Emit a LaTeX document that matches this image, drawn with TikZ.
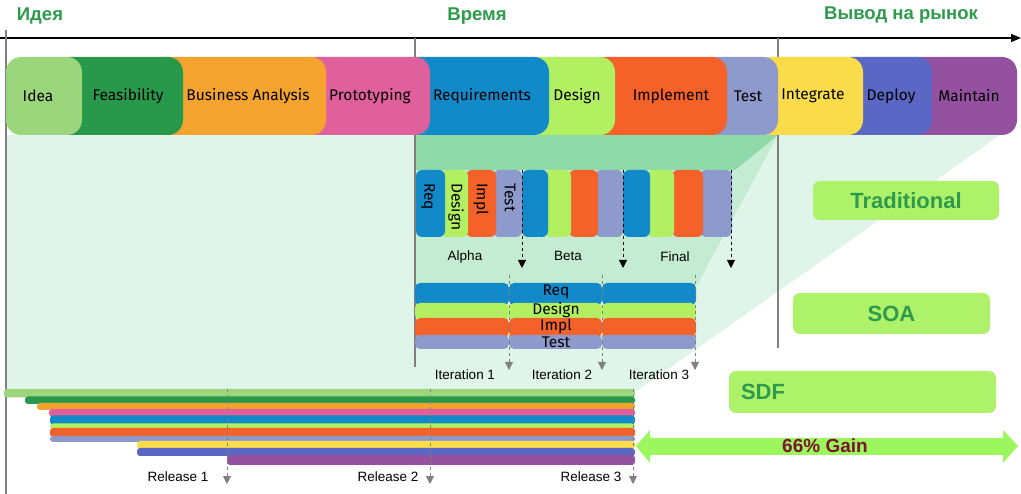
\documentclass[tikz,border=0pt]{standalone}
\usepackage{fontspec}
\setmainfont{Liberation Sans}
\newfontfamily\phasefont{Fira Sans}
\usetikzlibrary{arrows.meta}

\definecolor{cIdea}{HTML}{9BD67C}
\definecolor{cFeas}{HTML}{28994A}
\definecolor{cBA}{HTML}{F5A32F}
\definecolor{cProto}{HTML}{E0609B}
\definecolor{cReq}{HTML}{1289C9}
\definecolor{cDesign}{HTML}{B2F062}
\definecolor{cImpl}{HTML}{F4622A}
\definecolor{cTest}{HTML}{8F9ACC}
\definecolor{cInteg}{HTML}{FADC4B}
\definecolor{cDeploy}{HTML}{5A67C5}
\definecolor{cMaint}{HTML}{9451A0}
\definecolor{titlegreen}{HTML}{2E9A4C}
\definecolor{boxgreen}{HTML}{AEF26A}
\definecolor{bglight}{HTML}{E0F5E9}
\definecolor{bgmid}{HTML}{C4ECD2}
\definecolor{bgdark}{HTML}{8FD9A9}
\definecolor{gaingreen}{HTML}{9CF75E}
\definecolor{gainred}{HTML}{7B1431}

\tikzset{
  title/.style={font=\bfseries\fontsize{18.5}{20}\selectfont, text=titlegreen, inner sep=0pt},
  phaselabel/.style={font=\phasefont\fontsize{15.5}{16}\selectfont, inner sep=0pt},
  note/.style={font=\fontsize{13.5}{15}\selectfont, inner sep=0pt},
  method/.style={fill=boxgreen, rounded corners=7pt, font=\bfseries\fontsize{22}{24}\selectfont, text=titlegreen},
  guide/.style={draw=black!50, line width=1.2pt},
  release/.style={black!50, dashed, line width=0.9pt, -{Triangle[length=8pt,width=8pt]}},
}

\begin{document}
\begin{tikzpicture}[x=1pt,y=-1pt]
\useasboundingbox (0,0) rectangle (1021,494);
\fill[white] (0,0) rectangle (1021,494);

\fill[bglight] (5,135) -- (1000,135) -- (638,390) -- (5,390) -- cycle;
\fill[bgmid] (415,135) -- (778,135) -- (697,285) -- (415,285) -- cycle;
\fill[bgdark] (415,135) -- (778,135) -- (735,170) -- (415,170) -- cycle;

\draw[line width=1.2pt, -{Triangle[length=10pt,width=8pt]}] (0,38) -- (1021,38);
\draw[guide] (6,30) -- (6,494);
\draw[guide] (415,38) -- (415,367);
\draw[guide] (778,38) -- (778,348);

\node[title] (idea) at (40,16) {Идея};
\node[title] (time) at (477,16) {Время};
\node[title] (market) at (901,15) {Вывод на рынок};

\foreach \l/\r/\c in {900/1017/cMaint, 835/932/cDeploy, 755/863/cInteg, 700/778/cTest, 590/727/cImpl, 520/615/cDesign, 400/549/cReq, 300/430/cProto, 150/326/cBA, 50/183/cFeas, 6/82/cIdea}
  \fill[\c, rounded corners=15pt] (\l,57) rectangle (\r,135);
\foreach \n/\x/\t in {pidea/38/Idea, pfeas/128/Feasibility, pba/248/Business Analysis, pproto/370/Prototyping, preq/482/Requirements, pdesign/577/Design, pimpl/671/Implement, ptest/748/Test, pinteg/813/Integrate, pdeploy/891/Deploy, pmaint/969/Maintain}
  \node[phaselabel] (\n) at (\x,96) {\t};

\foreach \l/\r/\c in {700/732/cTest, 672/703/cImpl, 647/674/cDesign, 623/650/cReq, 595/623/cTest, 569/598/cImpl, 545/571/cDesign, 522/548/cReq, 493/522/cTest, 466/496/cImpl, 441/468/cDesign, 416/445/cReq}
  \fill[\c, rounded corners=6pt] (\l,170) rectangle (\r,237);
\foreach \n/\x/\t in {treq/428/Req, tdesign/456/Design, timpl/481/Impl, ttest/510/Test}
  \node[phaselabel, rotate=-90, anchor=west] (\n) at (\x,183) {\t};
\foreach \x [count=\i] in {522,623,731} {
  \coordinate (tr\i) at (\x,170);
  \coordinate (trend\i) at (\x,268);
  \draw[dashed, line width=0.9pt, -{Triangle[length=8pt,width=8pt]}] (tr\i) -- (trend\i);
}
\node[note] (alpha) at (465,257) {Alpha};
\node[note] (beta) at (568,256) {Beta};
\node[note] (final) at (675,257) {Final};

\foreach \l/\r in {415/509, 509/602, 602/696}
  \foreach \t/\b/\c in {283/305/cReq, 303/320/cDesign, 318/337/cImpl, 335/349/cTest}
    \fill[\c, rounded corners=5pt] (\l,\t) rectangle (\r,\b);
\foreach \n/\y/\t in {sreq/292/Req, sdesign/310/Design, simpl/326/Impl, stest/342/Test}
  \node[phaselabel] (\n) at (556,\y) {\t};
\foreach \x [count=\i] in {509,602,695} {
  \coordinate (it\i) at (\x,275);
  \coordinate (itend\i) at (\x,370);
  \draw[release] (it\i) -- (itend\i);
}
\node[note] (iter1) at (465,375) {Iteration 1};
\node[note] (iter2) at (562,375) {Iteration 2};
\node[note] (iter3) at (659,375) {Iteration 3};

\foreach \l/\t/\b/\c in {4/389/397.5/cIdea, 25/396.5/404/cFeas, 37/403/410/cBA, 49/409/416.5/cProto, 50/415.5/424.5/cReq, 50/423.5/429/cDesign, 50/428/437/cImpl, 50/436/442/cTest, 137/441/449/cInteg, 137/448/456/cDeploy, 227/455/465/cMaint}
  \fill[\c, rounded corners=3pt] (\l,\t) rectangle (635,\b);
\foreach \x [count=\i] in {227,430,633} {
  \coordinate (rel\i) at (\x,389);
  \coordinate (relend\i) at (\x,484);
  \draw[release] (rel\i) -- (relend\i);
}
\node[note] (release1) at (178,477) {Release 1};
\node[note] (release2) at (388,477) {Release 2};
\node[note] (release3) at (591,477) {Release 3};

\node[method, minimum width=186pt, minimum height=39pt] (trad) at (906,200.5) {Traditional};
\node[method, minimum width=197pt, minimum height=41pt] (soa) at (891.5,313.5) {SOA};
\node[method, minimum width=267pt, minimum height=42pt, inner xsep=12pt, text width=243pt, align=left] (sdf) at (862.5,392) {SDF};

\fill[gaingreen] (636,446) -- (650,430) -- (650,438) -- (1003,438) -- (1003,430) -- (1018,446)
  -- (1003,463) -- (1003,455) -- (650,455) -- (650,463) -- cycle;
\node[font=\bfseries\fontsize{19}{20}\selectfont, text=gainred, inner sep=0pt] (gain) at (825,446) {66\% Gain};
\end{tikzpicture}
\end{document}
